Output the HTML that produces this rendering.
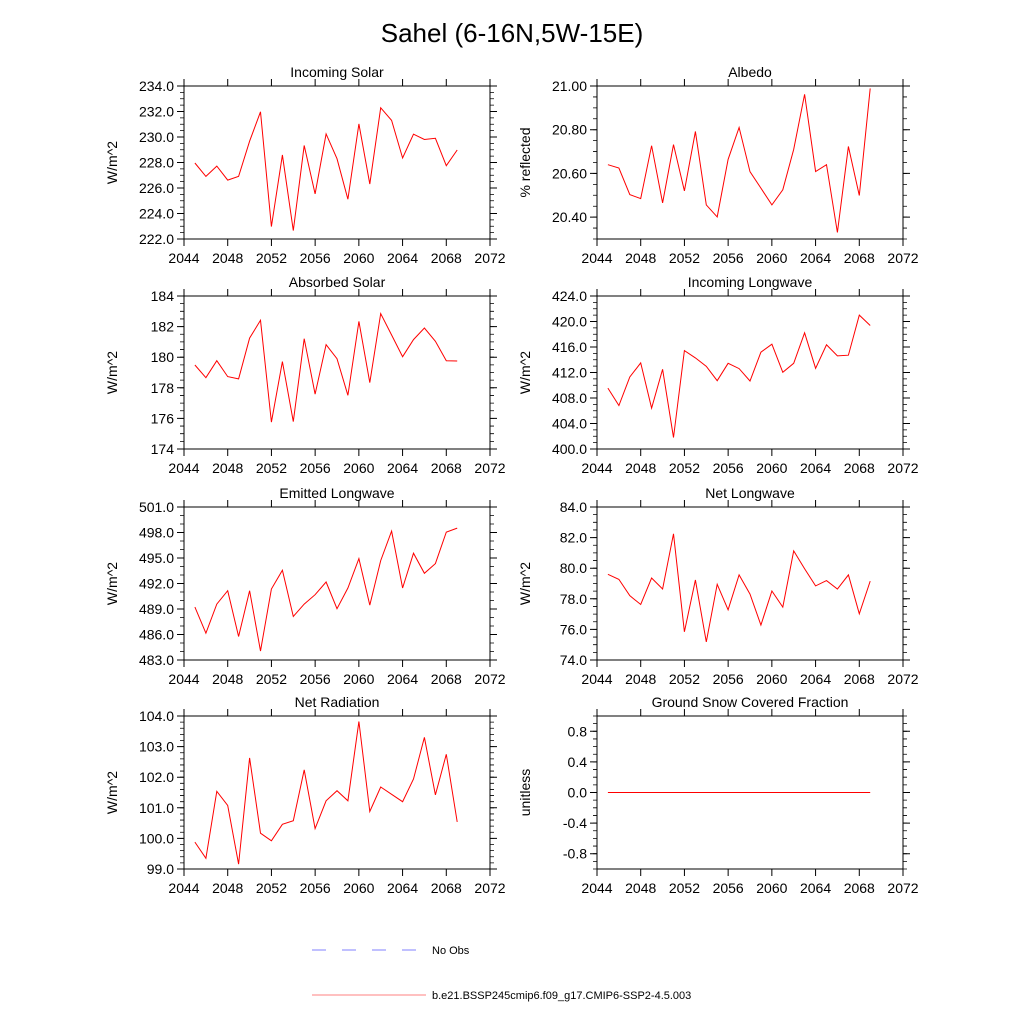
<!DOCTYPE html>
<html><head><meta charset="utf-8"><style>
body{margin:0;background:#fff;width:1024px;height:1024px;overflow:hidden;font-family:"Liberation Sans",sans-serif}
svg text{font-family:"Liberation Sans",sans-serif}
</style></head><body>
<svg id="s" width="1024" height="1024" viewBox="0 0 1024 1024" xmlns="http://www.w3.org/2000/svg">
<text x="512" y="42" font-size="26" text-anchor="middle">Sahel (6-16N,5W-15E)</text>
<g>
<line x1="312" y1="950" x2="418" y2="950" stroke="#8080ff" stroke-width="1" stroke-dasharray="14,16"/>
<text x="432" y="954" font-size="11">No Obs</text>
<line x1="312" y1="995" x2="426" y2="995" stroke="#ff8080" stroke-width="1"/>
<text x="432" y="999" font-size="11">b.e21.BSSP245cmip6.f09_g17.CMIP6-SSP2-4.5.003</text>
</g>
</svg>
<script>
const years = [2045,2046,2047,2048,2049,2050,2051,2052,2053,2054,2055,2056,2057,2058,2059,2060,2061,2062,2063,2064,2065,2066,2067,2068,2069];
const xTicks = [2044,2048,2052,2056,2060,2064,2068,2072];
const incomingSolar = [227.96,226.91,227.72,226.62,226.91,229.67,231.98,222.97,228.59,222.66,229.33,225.54,230.24,228.30,225.12,231.03,226.31,232.29,231.30,228.35,230.22,229.80,229.90,227.75,228.98];
const albedo = [20.640,20.625,20.503,20.485,20.727,20.465,20.732,20.520,20.792,20.456,20.401,20.664,20.810,20.608,20.533,20.456,20.525,20.710,20.962,20.609,20.640,20.330,20.723,20.499,20.989];
const absorbedSolar = [179.49,178.66,179.77,178.73,178.58,181.25,182.41,175.76,179.71,175.79,181.21,177.59,180.82,179.90,177.51,182.34,178.34,182.85,181.45,180.03,181.15,181.91,181.04,179.77,179.75];
const incomingLW = [409.56,406.83,411.30,413.50,406.41,412.50,401.80,415.44,414.29,412.98,410.72,413.45,412.61,410.67,415.18,416.44,412.03,413.45,418.23,412.66,416.34,414.60,414.71,421.01,419.38];
const emittedLW = [489.22,486.15,489.58,491.15,485.76,491.15,484.06,491.35,493.56,488.12,489.58,490.68,492.18,489.03,491.47,494.93,489.46,494.70,498.16,491.47,495.56,493.20,494.34,498.05,498.52];
const netLW = [79.60,79.27,78.20,77.63,79.36,78.64,82.25,75.84,79.23,75.18,78.95,77.28,79.56,78.31,76.28,78.51,77.46,81.13,79.97,78.84,79.19,78.64,79.56,77.02,79.16];
const netRad = [99.88,99.35,101.54,101.08,99.16,102.63,100.17,99.92,100.46,100.58,102.24,100.32,101.23,101.56,101.23,103.82,100.88,101.68,101.44,101.20,101.94,103.30,101.42,102.75,100.54];
const snowFrac = [0,0,0,0,0,0,0,0,0,0,0,0,0,0,0,0,0,0,0,0,0,0,0,0,0];
const titles = ["Incoming Solar","Albedo","Absorbed Solar","Incoming Longwave","Emitted Longwave","Net Longwave","Net Radiation","Ground Snow Covered Fraction"];
const yTitles = ["W/m^2","% reflected","W/m^2","W/m^2","W/m^2","W/m^2","W/m^2","unitless"];
const yMins = [222,20.3,174,400,483,74,99,-1];
const yMaxs = [234,21.0,184,424,501,84,104,1];
const yMajorStart = [222,20.4,174,400,483,74,99,-0.8];
const yMajorStep = [2,0.2,2,4,3,2,1,0.4];
const yMinorStep = [0.5,0.05,0.5,1,1,0.5,0.2,0.1];
const yDecimals = [1,2,0,1,1,1,1,1];
const series = [incomingSolar,albedo,absorbedSolar,incomingLW,emittedLW,netLW,netRad,snowFrac];

const svg = document.getElementById('s');
const NS = 'http://www.w3.org/2000/svg';
function mk(tag, attrs, parent){const e=document.createElementNS(NS,tag);for(const k in attrs)e.setAttribute(k,attrs[k]);parent.appendChild(e);return e;}
const lefts=[184,597], tops=[86,296,507,716], W=306, H=153;
for(let i=0;i<8;i++){
  const L=lefts[i%2], T=tops[Math.floor(i/2)];
  const g=mk('g',{},svg);
  
  
  const xs=v=>L+(v-2044)/(2072-2044)*W;
  const ys=v=>T+H-(v-yMins[i])/(yMaxs[i]-yMins[i])*H;
  // x ticks
  xTicks.forEach(t=>{
    const x=xs(t);
    const tk=mk('path',{d:`M${x},${T+H}v7M${x},${T}v-7`,stroke:'#000','stroke-width':1},g);
    
    
    const tx=mk('text',{x:x,y:T+H+24,'font-size':14,'text-anchor':'middle'},g);
    tx.textContent=t;
    
    
  });
  // y minor ticks
  const nMin=Math.round((yMaxs[i]-yMins[i])/yMinorStep[i]);
  for(let k=0;k<=nMin;k++){
    const v=yMins[i]+k*yMinorStep[i]; const y=ys(v);
    const mt=mk('path',{d:`M${L},${y}h-4M${L+W},${y}h4`,stroke:'#000','stroke-width':0.8},g);
    
    
  }
  // y major ticks
  for(let v=yMajorStart[i]; v<=yMaxs[i]+1e-6; v+=yMajorStep[i]){
    const y=ys(v);
    const mj=mk('path',{d:`M${L},${y}h-7M${L+W},${y}h7`,stroke:'#000','stroke-width':1},g);
    
    
    const tl=mk('text',{x:L-10,y:y+5,'font-size':14,'text-anchor':'end'},g);
    let s=(Math.abs(v)<1e-9?0:v).toFixed(yDecimals[i]);
    tl.textContent=s;
    
    
  }
  const fr=mk('rect',{x:L,y:T,width:W,height:H,fill:'none',stroke:'#000','stroke-width':1},g);
  
  
  const pts=series[i].map((v,j)=>xs(years[j]).toFixed(1)+','+ys(v).toFixed(1)).join(' ');
  const pl=mk('polyline',{points:pts,fill:'none',stroke:'#ff0000','stroke-width':1},g);
  
  
  const ti=mk('text',{x:L+W/2,y:T-9,'font-size':14,'text-anchor':'middle'},g);
  ti.textContent=titles[i];
  
  
  const yx=L-67, yy=T+H/2;
  const yt=mk('text',{x:yx,y:yy,'font-size':14,'text-anchor':'middle',transform:`rotate(-90 ${yx} ${yy})`},g);
  yt.textContent=yTitles[i];
  
  
}
</script>
</body></html>
